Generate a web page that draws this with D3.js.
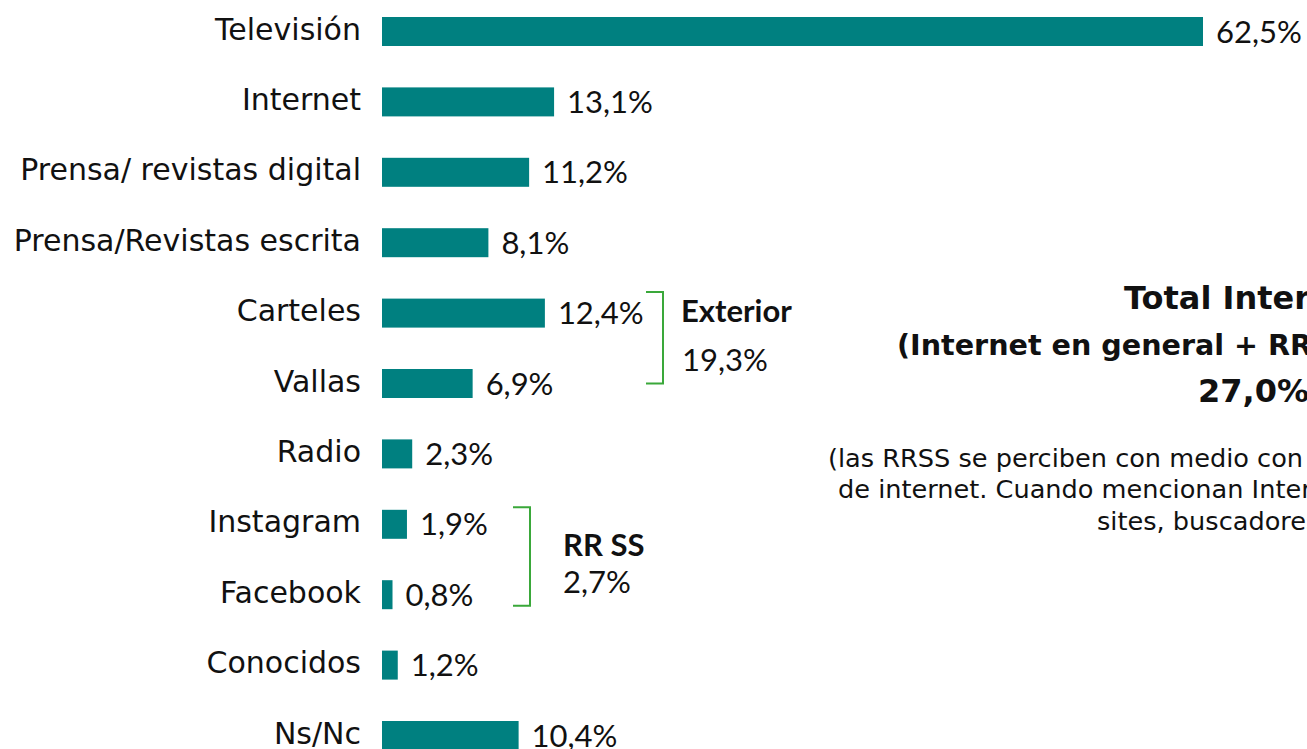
<!DOCTYPE html>
<html>
<head>
<meta charset="utf-8">
<script src="https://cdn.jsdelivr.net/npm/d3@7"></script>
<style>
  body { margin: 0; background: #fff; overflow: hidden; }
  text { fill: #111; }
  .cat, .note { font-family: "DejaVu Sans", sans-serif; }
  .val, .grp { font-family: "Lato", "Open Sans", sans-serif; }
  .title { font-family: "DejaVu Sans", sans-serif; font-weight: bold; }
</style>
</head>
<body>
<div id="chart"></div>
<script>
var width = 1307;
var height = 749;

// data
var categories = [
	"Televisión",
	"Internet",
	"Prensa/ revistas digital",
	"Prensa/Revistas escrita",
	"Carteles",
	"Vallas",
	"Radio",
	"Instagram",
	"Facebook",
	"Conocidos",
	"Ns/Nc",
];
var values = [62.5, 13.1, 11.2, 8.1, 12.4, 6.9, 2.3, 1.9, 0.8, 1.2, 10.4];
var valueLabels = ["62,5%", "13,1%", "11,2%", "8,1%", "12,4%", "6,9%", "2,3%", "1,9%", "0,8%", "1,2%", "10,4%"];

var groups = [
	{ name: "Exterior", total: "19,3%", from: "Carteles", to: "Vallas" },
	{ name: "RR SS", total: "2,7%", from: "Instagram", to: "Facebook" },
];

var noteTitle = ["Total Internet", "(Internet en general + RRSS)", "27,0%"];
var noteText = [
	"(las RRSS se perciben con medio con entidad propia, independiente",
	"de internet. Cuando mencionan Internet se refieren a web",
	"sites, buscadores...)",
];

var barColor = "#008080";
var bracketColor = "#3aa83a";

var svg = d3
	.select("#chart")
	.append("svg")
	.attr("width", width)
	.attr("height", height);

svg.append("rect").attr("width", width).attr("height", height).attr("fill", "#fff");

var xscale = d3.scaleLinear().domain([0, 62.5]).range([382, 1203]);
var yscale = d3.scalePoint().domain(categories).range([31.5, 735.5]);
var barHeight = 29;

var data = categories.map((c, i) => ({ cat: c, value: values[i], label: valueLabels[i] }));

// bars
svg
	.selectAll("rect.bar")
	.data(data)
	.enter()
	.append("rect")
	.attr("class", "bar")
	.attr("x", xscale(0))
	.attr("y", (d) => yscale(d.cat) - barHeight / 2)
	.attr("width", (d) => xscale(d.value) - xscale(0))
	.attr("height", barHeight)
	.attr("fill", barColor);

// category labels
svg
	.selectAll("text.cat")
	.data(data)
	.enter()
	.append("text")
	.attr("class", "cat")
	.attr("x", 361)
	.attr("y", (d) => yscale(d.cat) + 8)
	.attr("text-anchor", "end")
	.attr("font-size", "30px")
	.text((d) => d.cat);

// value labels
svg
	.selectAll("text.val")
	.data(data)
	.enter()
	.append("text")
	.attr("class", "val")
	.attr("x", (d) => xscale(d.value) + 13)
	.attr("y", (d) => yscale(d.cat) + 11)
	.attr("font-size", "31px")
	.text((d) => d.label);

// brackets for grouped items
var bracketX = [663, 530];
var bracketTop = [-21, -17];
var bracketBottom = [0, 11];
groups.forEach((g, i) => {
	var x = bracketX[i];
	var y0 = yscale(g.from) + bracketTop[i];
	var y1 = yscale(g.to) + bracketBottom[i];
	svg
		.append("path")
		.attr("d", `M${x - 17},${y0} H${x} V${y1} H${x - 17}`)
		.attr("fill", "none")
		.attr("stroke", bracketColor)
		.attr("stroke-width", 2);
});

// Exterior
svg.append("text").attr("class", "grp").attr("x", 681).attr("y", 322).attr("font-size", "31px").attr("font-weight", "bold").text(groups[0].name);
svg.append("text").attr("class", "grp").attr("x", 682).attr("y", 371).attr("font-size", "31px").text(groups[0].total);
// RR SS
svg.append("text").attr("class", "grp").attr("x", 563).attr("y", 556).attr("font-size", "31px").attr("font-weight", "bold").text(groups[1].name);
svg.append("text").attr("class", "grp").attr("x", 563).attr("y", 593).attr("font-size", "31px").text(groups[1].total);

// Total Internet block (runs off the right edge)
var titleX = [1124, 897, 1198];
var titleY = [309, 355, 402];
var titleSize = [32, 28.6, 32];
noteTitle.forEach((t, i) => {
	svg
		.append("text")
		.attr("class", "title")
		.attr("x", titleX[i])
		.attr("y", titleY[i])
		.attr("font-size", titleSize[i] + "px")
		.text(t);
});

var noteX = [828, 838, 1097];
var noteY = [467, 498, 530];
noteText.forEach((t, i) => {
	svg
		.append("text")
		.attr("class", "note")
		.attr("x", noteX[i])
		.attr("y", noteY[i])
		.attr("font-size", "25.6px")
		.text(t);
});
</script>
</body>
</html>
